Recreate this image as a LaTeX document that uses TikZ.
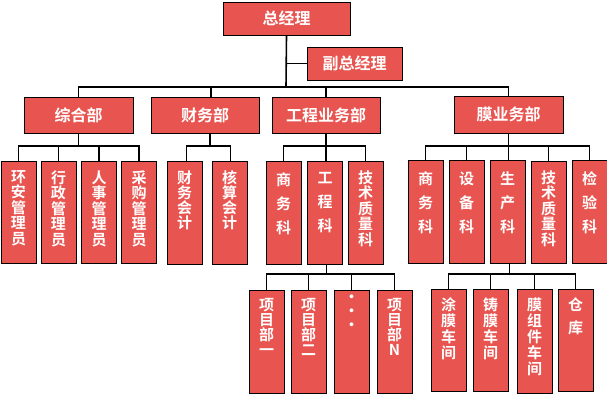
\documentclass[tikz,border=0pt]{standalone}
\usepackage{fontspec}
\newfontfamily\cjk{Noto Sans CJK SC}[BoldFont={Noto Sans CJK SC Bold}]
\definecolor{boxred}{RGB}{232,84,80}
\newcommand\vlab[4]{\parbox[c][#1pt][t]{34pt}{\centering\fontsize{15}{#2}\selectfont\vspace*{#3pt}#4\par}}
\tikzset{
  box/.style={draw=black, line width=0.9pt, fill=boxred, text=white, font=\cjk\bfseries, inner sep=0pt},
  hbox/.style={box, font=\cjk\bfseries\fontsize{16}{16}\selectfont},
  vbox/.style={box, anchor=north, minimum width=35pt},
  conn/.style={draw=black, line width=1.6pt}
}
\begin{document}
\begin{tikzpicture}[x=1pt, y=-1pt]
\useasboundingbox (0,0) rectangle (607,400);
% level 1-2
\node[hbox, minimum width=127pt, minimum height=33pt] (gm) at (286.5,18.5) {总经理};
\node[hbox, minimum width=95pt, minimum height=33pt] (vgm) at (354.5,63.5) {副总经理};
\node[hbox, minimum width=109pt, minimum height=36pt] (zh) at (78.5,115) {综合部};
\node[hbox, minimum width=108pt, minimum height=36pt] (cw) at (205,115) {财务部};
\node[hbox, minimum width=108pt, minimum height=36pt] (gc) at (326,115) {工程业务部};
\node[hbox, minimum width=109pt, minimum height=37pt] (mo) at (508.5,114.5) {膜业务部};
% level 3
\node[vbox] (z1) at (18.5,161) {\vlab{102}{15.5}{9}{环\\安\\管\\理\\员}};
\node[vbox] (z2) at (58.5,161) {\vlab{102}{15.5}{9}{行\\政\\管\\理\\员}};
\node[vbox] (z3) at (99,161) {\vlab{102}{15.5}{9}{人\\事\\管\\理\\员}};
\node[vbox] (z4) at (139,161) {\vlab{102}{15.5}{9}{采\\购\\管\\理\\员}};
\node[vbox] (c1) at (184.5,161) {\vlab{103}{15}{9}{财\\务\\会\\计}};
\node[vbox] (c2) at (229.5,161) {\vlab{103}{15}{9}{核\\算\\会\\计}};
\node[vbox] (g1) at (283.5,161) {\vlab{103}{24}{11}{商\\务\\科}};
\node[vbox] (g2) at (325,161) {\vlab{103}{24}{11}{工\\程\\科}};
\node[vbox] (g3) at (365.5,161) {\vlab{103}{15.5}{9}{技\\术\\质\\量\\科}};
\node[vbox] (m1) at (425.5,160) {\vlab{103}{24}{11}{商\\务\\科}};
\node[vbox] (m2) at (466.5,160) {\vlab{103}{24}{11}{设\\备\\科}};
\node[vbox] (m3) at (507.5,160) {\vlab{103}{24}{11}{生\\产\\科}};
\node[vbox] (m4) at (548.5,161) {\vlab{102}{15.5}{9}{技\\术\\质\\量\\科}};
\node[vbox] (m5) at (589.5,160) {\vlab{103}{24}{11}{检\\验\\科}};
% level 4
\node[vbox] (p1) at (266.5,290) {\vlab{103}{15}{8}{项\\目\\部\\一}};
\node[vbox] (p2) at (308.5,290) {\vlab{103}{15}{8}{项\\目\\部\\二}};
\node[vbox] (p3) at (351.5,290) {\vlab{103}{14}{4}{·\\·\\·}};
\node[vbox] (p4) at (394.5,290) {\vlab{103}{15}{8}{项\\目\\部\\N}};
\node[vbox] (w1) at (448.5,289) {\vlab{102}{16}{8}{涂\\膜\\车\\间}};
\node[vbox] (w2) at (490.5,289) {\vlab{102}{16}{8}{铸\\膜\\车\\间}};
\node[vbox] (w3) at (534.5,289) {\vlab{104}{16}{8}{膜\\组\\件\\车\\间}};
\node[vbox] (w4) at (575.5,289) {\vlab{102}{23}{8}{仓\\库}};
% connectors
\coordinate (b1) at (286,87);
\coordinate (b2) at (0,146);
\coordinate (b3) at (0,274);
\draw[conn] (gm.south) -- (b1);
\draw[conn] (gm.south |- vgm.west) -- (vgm.west);
\draw[conn] (zh.north) -- (zh.north |- b1) -- (mo.north |- b1) -- (mo.north);
\draw[conn] ([xshift=6pt]cw.north) -- ([xshift=6pt]cw.north |- b1);
\draw[conn] (gc.north) -- (gc.north |- b1);
% zh children
\draw[conn] (zh.south) -- (zh.south |- b2);
\draw[conn] (z1.north) -- (z1.north |- b2) -- (z4.north |- b2) -- (z4.north);
\draw[conn] (z2.north) -- (z2.north |- b2);
\draw[conn] (z3.north) -- (z3.north |- b2);
% cw children
\draw[conn] ([xshift=5pt]cw.south) -- ([xshift=5pt]cw.south |- b2);
\draw[conn] ([xshift=2pt]c1.north) -- ([xshift=2pt]c1.north |- b2) -- ([xshift=1pt]c2.north |- b2) -- ([xshift=1pt]c2.north);
% gc children
\draw[conn] (g1.north) -- (g1.north |- b2) -- (g3.north |- b2) -- (g3.north);
\draw[conn] (gc.south) -- (gc.south |- g2.north);
% mo children
\draw[conn] (m1.north) -- (m1.north |- b2) -- (m5.north |- b2) -- (m5.north);
\draw[conn] (m2.north) -- (m2.north |- b2);
\draw[conn] (mo.south) -- (mo.south |- m3.north);
\draw[conn] (m4.north) -- (m4.north |- b2);
% g2 children
\draw[conn] ([xshift=1.5pt]g2.south) -- ([xshift=1.5pt]g2.south |- b3);
\draw[conn] (p1.north) -- (p1.north |- b3) -- (p4.north |- b3) -- (p4.north);
\draw[conn] (p2.north) -- (p2.north |- b3);
\draw[conn] (p3.north) -- (p3.north |- b3);
% m3 children
\draw[conn] ([xshift=2pt]m3.south) -- ([xshift=2pt]m3.south |- b3);
\draw[conn] (w1.north) -- (w1.north |- b3) -- (w4.north |- b3) -- (w4.north);
\draw[conn] (w2.north) -- (w2.north |- b3);
\draw[conn] (w3.north) -- (w3.north |- b3);
\end{tikzpicture}
\end{document}
